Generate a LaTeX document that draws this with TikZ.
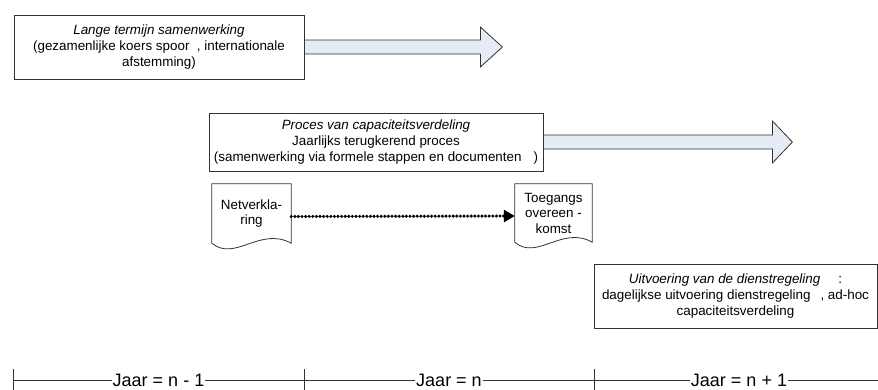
\documentclass[tikz,border=0pt]{standalone}
\usepackage{fontspec}
\setmainfont{Liberation Sans}
\usetikzlibrary{arrows.meta}
\definecolor{arrowfill}{RGB}{230,236,246}
\definecolor{edgegray}{RGB}{50,50,50}

\begin{document}
\begin{tikzpicture}[x=1pt,y=-1pt,
  box/.style={draw=edgegray,line width=0.8pt,align=center,inner sep=0pt,
    font=\fontsize{13.4}{16}\selectfont},
  doc/.style={align=center,inner sep=0pt,font=\fontsize{13.4}{15.5}\selectfont},
  docline/.style={draw=edgegray,line width=0.8pt},
  blockarrow/.style={draw=edgegray,fill=arrowfill,line width=0.8pt,line join=miter},
  dotarrow/.style={line width=3.4pt,dash pattern=on 0pt off 3.6pt,line cap=round,
    -{Triangle[length=11pt,width=12pt]}},
  yearlabel/.style={fill=white,inner xsep=1pt,inner ysep=0pt,text height=13pt,
    text depth=0pt,font=\fontsize{18}{20}\selectfont}]
  \useasboundingbox (0,0) rectangle (878,389);
  \clip (0,0) rectangle (878,389);

  % Long term cooperation
  \node[box,minimum width=290pt,minimum height=64pt] (lange) at (159,47)
    {\textit{Lange termijn samenwerking}\\(gezamenlijke koers spoor~~, internationale\\afstemming)};
  \draw[blockarrow] ([yshift=7pt]lange.east) -- ++(176,0) -- ++(0,-13) -- ++(22,20)
    -- ++(-22,20) -- ++(0,-13) -- ++(-176,0) -- cycle;

  % Capacity allocation process
  \node[box,minimum width=334pt,minimum height=58pt] (proces) at (376,142)
    {\textit{Proces van capaciteitsverdeling}\\Jaarlijks terugkerend proces\\(samenwerking via formele stappen en documenten\hspace{12pt})};
  \draw[blockarrow] ([yshift=7pt]proces.east) -- ++(229,0) -- ++(0,-14) -- ++(20,21)
    -- ++(-20,21) -- ++(0,-14) -- ++(-229,0) -- cycle;

  % Documents
  \node[doc,minimum width=79pt,minimum height=59pt] (netv) at (251.5,213.5) {Netverkla-\\ring};
  \draw[docline] (netv.south west) -- (netv.north west) -- (netv.north east) -- (netv.south east)
    .. controls +(-31,-17) and +(23,19) .. (netv.south west);
  \node[doc,minimum width=77pt,minimum height=58pt] (toeg) at (553.5,213) {Toegangs\\overeen -\\komst};
  \draw[docline] (toeg.south west) -- (toeg.north west) -- (toeg.north east) -- (toeg.south east)
    .. controls +(-30,-17) and +(22,19) .. (toeg.south west);
  \draw[dotarrow] ([yshift=-3pt]netv.east) -- ([yshift=-3pt]toeg.west);

  % Timetable execution
  \node[box,minimum width=283pt,minimum height=64pt] (uitv) at (735.5,296)
    {\textit{Uitvoering van de dienstregeling}\hspace{18pt}:\\dagelijkse uitvoering dienstregeling\hspace{10pt}, ad-hoc\\capaciteitsverdeling};

  % Time line
  \coordinate (t0) at (13,380);
  \coordinate (t1) at (304,380);
  \coordinate (t2) at (594,380);
  \coordinate (t3) at (884,380);
  \draw[edgegray,line width=0.8pt] (t0) -- (t3);
  \foreach \t in {t0,t1,t2,t3}
    \draw[edgegray,line width=0.8pt] (\t) ++(0,-11) -- ++(0,30);
  \path (t0) -- (t1) node[yearlabel,midway] (jaar1) {Jaar = n - 1};
  \path (t1) -- (t2) node[yearlabel,midway] (jaar2) {Jaar = n};
  \path (t2) -- (t3) node[yearlabel,midway] (jaar3) {Jaar = n + 1};
\end{tikzpicture}
\end{document}
